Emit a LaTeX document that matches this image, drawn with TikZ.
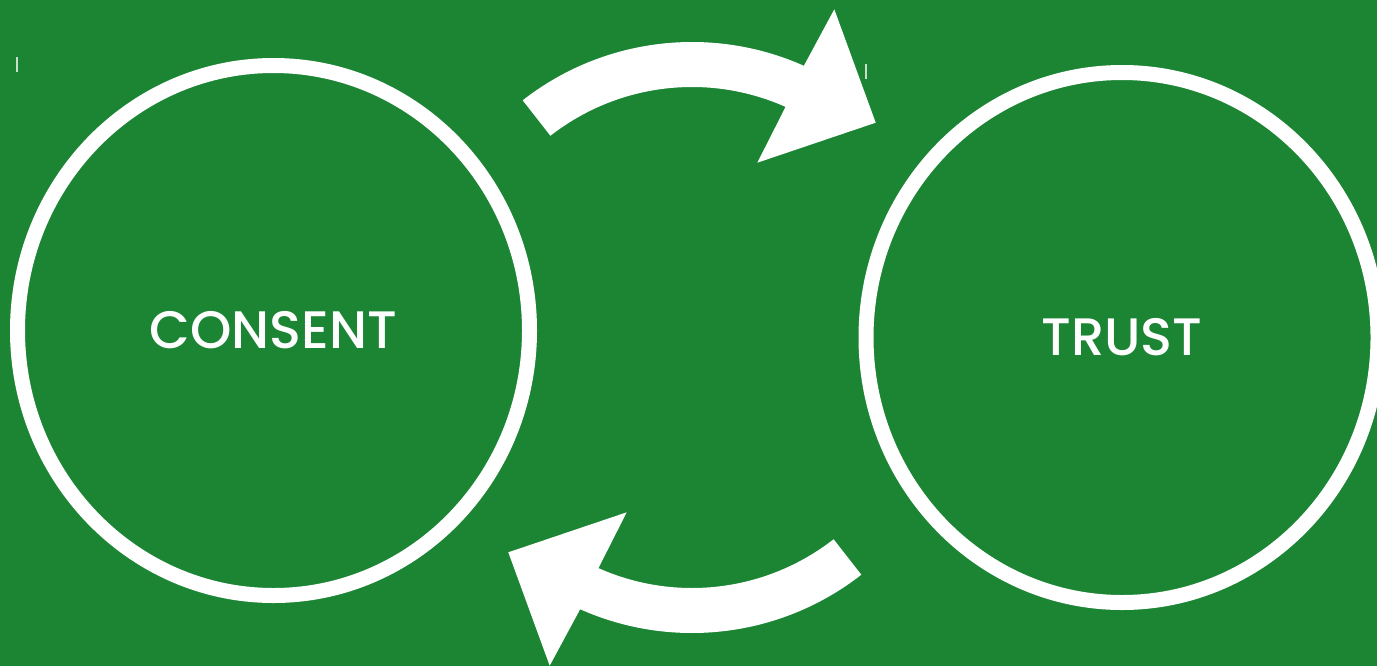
\documentclass[tikz,border=0pt]{standalone}
\usepackage{fontspec}
\setmainfont{Poppins}[BoldFont=* Medium]
\usetikzlibrary{calc,shapes.geometric}
\definecolor{bggreen}{RGB}{27,133,52}

\begin{document}
\begin{tikzpicture}[
    ring/.style={draw=white,line width=1.5mm,ellipse,minimum width=5.12cm,minimum height=5.30cm,
      inner sep=0pt,text=white,font=\fontsize{15}{16}\selectfont\bfseries},
    bigarrow/.style={fill=white}]
  \fill[bggreen] (0,0) rectangle (13.77,6.66);
  \useasboundingbox (0,0) rectangle (13.77,6.66);
  \clip (0,0) rectangle (13.77,6.66);

  \node[ring] (CON) at (2.735,3.355) {CONSENT};
  \node[ring] (TR) at (11.22,3.285) {TRUST};

  \coordinate (CT) at (6.92,3.49);
  \coordinate (CB) at (6.92,3.08);

  \fill[bigarrow] ($(CT)+(128:2.75)$) arc[start angle=128,end angle=66,radius=2.75]
    -- (8.343,6.567) -- (8.757,5.433) -- (7.573,5.033)
    -- ($(CT)+(66:2.30)$) arc[start angle=66,end angle=128,radius=2.30] -- cycle;
  \fill[bigarrow] ($(CB)+(308:2.75)$) arc[start angle=308,end angle=246,radius=2.75]
    -- (5.497,0.003) -- (5.083,1.137) -- (6.267,1.537)
    -- ($(CB)+(246:2.30)$) arc[start angle=246,end angle=308,radius=2.30] -- cycle;

  \draw[white!75!bggreen,line width=0.3pt] (0.17,6.09) -- (0.17,5.94);
  \draw[white!75!bggreen,line width=0.3pt] (8.66,6.02) -- (8.66,5.87);
\end{tikzpicture}
\end{document}
